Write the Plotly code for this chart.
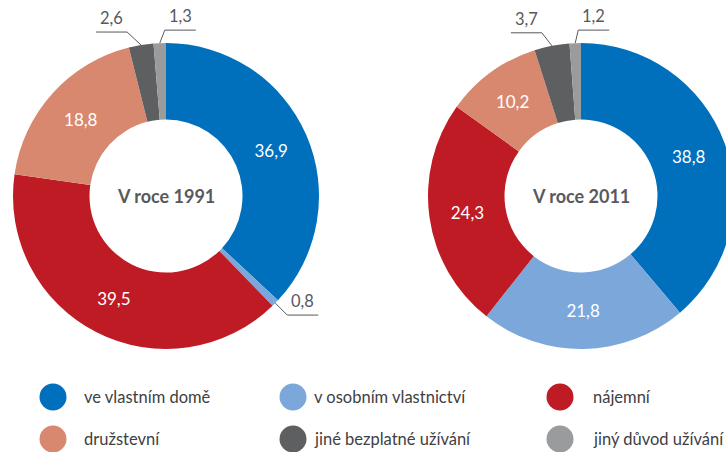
import math
import plotly.graph_objects as go

# ---- data ----
categories = ["ve vlastním domě", "v osobním vlastnictví", "nájemní",
              "družstevní", "jiné bezplatné užívání", "jiný důvod užívání"]
values_1991 = [36.9, 0.8, 39.5, 18.8, 2.6, 1.3]
values_2011 = [38.8, 21.8, 24.3, 10.2, 3.7, 1.2]
titles = ["V roce 1991", "V roce 2011"]

# ---- styles / layout ----
colors = ["#0070BD", "#7BA7DA", "#BE1B24", "#D98870", "#5E5F61", "#9A9B9D"]
TXT = "#58595B"
FONT = "Lato"
W, H = 745, 452
R = 153
HOLE = 0.5
centers = [(166, 196), (581, 196)]
SMALL = 5.0
# leader-line style per small label: (elbow dx, elbow dy, side)
leader_style = {
    (0, 1): (12, 12, 1),
    (0, 4): (-14, -13, -1),
    (0, 5): (5, -13, 1),
    (1, 4): (-10, -13, -1),
    (1, 5): (3, -13, 1),
}
SEG = 31
legend_marker_x = [53, 293, 560]
legend_text_x = [82, 312, 591]
legend_row_y = [397, 439]

fig = go.Figure()
annotations = []
shapes = []

for k, vals in enumerate([values_1991, values_2011]):
    cx, cy = centers[k]
    tmpl = ["%{value:.1f}" if v >= SMALL else "" for v in vals]
    fig.add_trace(go.Pie(
        labels=categories, values=vals, hole=HOLE, sort=False,
        direction="clockwise", rotation=0,
        marker=dict(colors=colors, line=dict(width=0)),
        texttemplate=tmpl, textposition="inside",
        insidetextorientation="horizontal",
        textfont=dict(color="white", size=17, family=FONT),
        showlegend=False, hoverinfo="label+value",
        domain=dict(x=[(cx - R) / W, (cx + R) / W],
                    y=[1 - (cy + R) / H, 1 - (cy - R) / H]),
    ))
    annotations.append(dict(x=cx, y=cy, xref="x", yref="y", text=f"<b>{titles[k]}</b>",
                            showarrow=False, font=dict(size=18, color=TXT, family=FONT)))
    total = sum(vals)
    cum = 0.0
    for i, v in enumerate(vals):
        mid = (cum + v / 2) / total * 2 * math.pi
        cum += v
        if (k, i) not in leader_style:
            continue
        px = cx + R * math.sin(mid)
        py = cy - R * math.cos(mid)
        dx, dy, side = leader_style[(k, i)]
        ex, ey = px + dx, py + dy
        hx = ex + side * SEG
        shapes.append(dict(type="path", xref="x", yref="y",
                           path=f"M{px},{py} L{ex},{ey} L{hx},{ey}",
                           line=dict(color=TXT, width=1)))
        annotations.append(dict(x=(ex + hx) / 2, y=ey - 2, xref="x", yref="y",
                                text=f"{v:.1f}".replace(".", ","), showarrow=False,
                                yanchor="bottom", xanchor="center",
                                font=dict(size=16.5, color=TXT, family=FONT)))

# legend drawn as circles + labels
lx, ly, lc = [], [], []
for i, cat in enumerate(categories):
    col, row = i % 3, i // 3
    lx.append(legend_marker_x[col])
    ly.append(legend_row_y[row])
    lc.append(colors[i])
    annotations.append(dict(x=legend_text_x[col], y=legend_row_y[row], xref="x", yref="y",
                            text=cat, showarrow=False, xanchor="left", yanchor="middle",
                            font=dict(size=16.5, color="#404042", family=FONT)))
fig.add_trace(go.Scatter(x=lx, y=ly, mode="markers",
                         marker=dict(size=27, color=lc, line=dict(width=0)),
                         showlegend=False, hoverinfo="skip", cliponaxis=False))

fig.update_layout(
    width=W, height=H, margin=dict(l=0, r=0, t=0, b=0),
    paper_bgcolor="white", plot_bgcolor="rgba(0,0,0,0)",
    separators=", ",
    xaxis=dict(range=[0, W], visible=False, fixedrange=True, domain=[0, 1]),
    yaxis=dict(range=[H, 0], visible=False, fixedrange=True, domain=[0, 1]),
    annotations=annotations, shapes=shapes,
    font=dict(family=FONT),
)

fig.write_html("out.html", config={"displayModeBar": False},
               post_script="document.body.style.margin='0';"
                           "document.body.style.overflow='hidden';"
                           "document.documentElement.style.overflow='hidden';")
